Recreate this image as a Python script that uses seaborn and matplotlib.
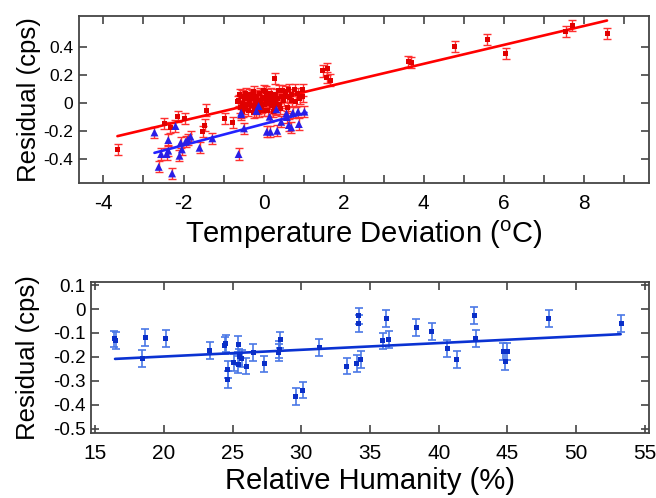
import numpy as np
import pandas as pd
import matplotlib
matplotlib.use("Agg")
import matplotlib.pyplot as plt
from matplotlib.ticker import MultipleLocator, FixedLocator, FuncFormatter
import seaborn as sns

# ---------------- data: top panel (temperature) ----------------
red_x = [-3.64, -2.475, -2.325, -2.14, -1.975, -1.43, -1.475, -1.52, -0.975, -0.77,
         0.275, 0.98, 0.98, 0.775, 0.625, 0.47, 0.70,
         1.48, 1.59, 1.58, 1.67,
         3.61, 3.69, 4.775, 5.58, 6.05, 7.54, 7.71, 8.58,
         -0.62, -0.58, -0.55, -0.52, -0.50, -0.47, -0.45, -0.42, -0.40, -0.38,
         -0.35, -0.33, -0.30, -0.28, -0.25, -0.22, -0.20, -0.18, -0.15, -0.12,
         -0.10, -0.08, -0.05, -0.03, 0.00, 0.02, 0.05, 0.08, 0.10, 0.12,
         0.15, 0.18, 0.20, 0.22, 0.25, 0.28, 0.30, 0.35, 0.40, 0.45,
         0.50, 0.55, 0.60, 0.65, 0.70, 0.80, 0.85, 0.90, -0.60, -0.45,
         -0.30, -0.15, 0.00, 0.15, 0.30, -0.65, 0.05, 0.38,
         -0.52, -0.36, -0.24, -0.06, 0.07, 0.24, 0.42, 0.58]
red_y = [-0.331, -0.145, -0.174, -0.098, -0.110, -0.050, -0.157, -0.205, -0.110, -0.140,
         0.176, 0.093, 0.045, 0.093, 0.098, 0.088, 0.020,
         0.229, 0.243, 0.183, 0.164,
         0.295, 0.288, 0.402, 0.455, 0.355, 0.509, 0.550, 0.493,
         0.020, -0.030, 0.050, 0.000, -0.040, 0.030, 0.070, -0.010, 0.040, -0.050,
         0.010, 0.060, -0.020, 0.030, 0.080, -0.040, 0.000, 0.050, 0.020, -0.060,
         0.070, 0.010, -0.030, 0.040, 0.090, -0.010, 0.030, 0.060, -0.050, 0.020,
         0.000, 0.070, -0.020, 0.040, 0.010, -0.040, 0.060, 0.030, -0.010, 0.050,
         0.020, 0.080, -0.030, 0.040, 0.060, 0.010, 0.070, 0.030, 0.060, -0.020,
         0.050, -0.040, -0.050, 0.030, 0.000, 0.010, 0.080, 0.090,
         -0.060, 0.005, -0.070, -0.015, 0.015, -0.060, -0.040, 0.045]
blue_x = [-2.725, -2.2, -2.62, -2.56, -2.42, -2.38, -2.38, -2.285, -2.1, -2.07,
          -2.04, -1.95, -1.89, -1.825, -1.6, -1.28, -0.625, -0.49, -0.56, -0.56,
          -0.18, -0.125, 0.08, 0.17, 0.15, 0.32, 0.34, 0.44, 0.57, 0.58,
          0.63, 0.69, 0.73, 0.86, 0.88, 1.02]
blue_y = [-0.210, -0.164, -0.455, -0.364, -0.364, -0.264, -0.340, -0.502, -0.376, -0.283,
          -0.331, -0.276, -0.260, -0.240, -0.319, -0.252, -0.364, -0.181, -0.069, -0.080,
          -0.057, -0.021, -0.205, -0.205, -0.098, -0.045, -0.198, -0.134, -0.074, -0.100,
          -0.157, -0.174, -0.069, -0.062, -0.150, -0.062]
temp_err = 0.04
red_fit_x = [-3.65, 8.575]
red_fit_y = [-0.236, 0.588]
blue_fit_x = [-2.725, 1.07]
blue_fit_y = [-0.355, -0.069]
temp_yticks = [-0.4, -0.2, 0.0, 0.2, 0.4]

# ---------------- data: bottom panel (humidity) ----------------
hum_x = [16.4, 16.5, 18.43, 18.65, 20.15, 23.33, 24.42, 24.5, 24.66, 24.66,
         25.1, 25.43, 25.43, 25.5, 25.67, 25.99, 26.52, 27.32, 28.36, 28.48,
         28.4, 29.6, 30.1, 31.3, 33.3, 34.03, 34.2, 34.2, 34.33, 35.94,
         36.2, 36.38, 38.36, 39.5, 40.63, 41.3, 42.6, 42.7, 44.7, 44.83,
         44.98, 48.0, 53.28]
hum_y = [-0.125, -0.130, -0.205, -0.120, -0.122, -0.174, -0.153, -0.145, -0.251, -0.293,
         -0.224, -0.146, -0.233, -0.200, -0.208, -0.238, -0.182, -0.229, -0.182, -0.129,
         -0.170, -0.365, -0.338, -0.160, -0.238, -0.226, -0.029, -0.060, -0.210, -0.133,
         -0.039, -0.126, -0.078, -0.094, -0.164, -0.210, -0.028, -0.122, -0.178, -0.219,
         -0.178, -0.039, -0.060]
hum_err = 0.035
hum_fit_x = [16.45, 53.24]
hum_fit_y = [-0.208, -0.105]

# ---------------- style ----------------
sns.set_style("ticks")
FONT = ["Liberation Sans", "DejaVu Sans"]
plt.rcParams["font.family"] = FONT
plt.rcParams["axes.unicode_minus"] = False
plt.rcParams["mathtext.fontset"] = "custom"
plt.rcParams["mathtext.rm"] = "Liberation Sans"
for k in ["text.color", "axes.labelcolor", "xtick.labelcolor", "ytick.labelcolor"]:
    plt.rcParams[k] = "black"

fig = plt.figure(figsize=(6.56, 4.98), dpi=100)
ax1 = fig.add_axes([0.1204, 0.6325, 0.869, 0.3353])
ax2 = fig.add_axes([0.1387, 0.1305, 0.8506, 0.3032])

fmt = FuncFormatter(lambda v, p: "%g" % round(v, 3))

def style_axes(ax, ysize):
    for s in ax.spines.values():
        s.set_color("#444444")
        s.set_linewidth(1.3)
    ax.tick_params(which="both", direction="in", top=True, right=True,
                   length=6, width=1.2, color="#444444")
    ax.tick_params(axis="x", labelsize=15, pad=8, labelcolor="black")
    ax.tick_params(axis="y", labelsize=ysize, pad=4, labelcolor="black")

# top panel
blue_c = "#2a1ee6"
ax1.errorbar(red_x, red_y, yerr=temp_err, fmt="none", ecolor="#ff3030",
             elinewidth=1.0, capsize=3, capthick=1.0, zorder=2)
ax1.errorbar(blue_x, blue_y, yerr=temp_err, fmt="none", ecolor="#ff3030",
             elinewidth=1.0, capsize=3, capthick=1.0, zorder=2)
sns.lineplot(x=red_fit_x, y=red_fit_y, color="#ff0000", linewidth=1.9, ax=ax1, zorder=3)
sns.lineplot(x=blue_fit_x, y=blue_fit_y, color="#2222ff", linewidth=1.9, ax=ax1, zorder=3)
sns.scatterplot(x=red_x, y=red_y, marker="s", color="#e00000", s=13,
                edgecolor="none", ax=ax1, zorder=4)
sns.scatterplot(x=blue_x, y=blue_y, marker="^", color=blue_c, s=32,
                edgecolor="none", ax=ax1, zorder=5)
ax1.set_xlim(-4.61, 9.625)
ax1.set_ylim(-0.57, 0.62)
ax1.xaxis.set_major_locator(MultipleLocator(2))
ax1.xaxis.set_minor_locator(MultipleLocator(1))
ax1.yaxis.set_major_locator(FixedLocator(temp_yticks))
ax1.xaxis.set_major_formatter(fmt)
ax1.yaxis.set_major_formatter(fmt)
style_axes(ax1, 12.5)
ax1.set_xlabel(r"Temperature Deviation ($^{\mathrm{o}}$C)", fontsize=21, labelpad=4)
ax1.set_ylabel("Residual (cps)", fontsize=18.5, labelpad=2)

# bottom panel
ax2.errorbar(hum_x, hum_y, yerr=hum_err, fmt="none", ecolor="#4a78e6",
             elinewidth=1.2, capsize=3, capthick=1.2, zorder=2)
sns.lineplot(x=hum_fit_x, y=hum_fit_y, color="#0a32d2", linewidth=1.9, ax=ax2, zorder=3)
sns.scatterplot(x=hum_x, y=hum_y, marker="s", color="#0a2fc8", s=13,
                edgecolor="none", ax=ax2, zorder=4)
ax2.set_xlim(14.7, 55.3)
ax2.set_ylim(-0.517, 0.1125)
ax2.xaxis.set_major_locator(MultipleLocator(5))
ax2.yaxis.set_major_locator(MultipleLocator(0.1))
ax2.xaxis.set_major_formatter(fmt)
ax2.yaxis.set_major_formatter(fmt)
style_axes(ax2, 13.5)
ax2.set_xlabel("Relative Humanity (%)", fontsize=21, labelpad=3)
ax2.set_ylabel("Residual (cps)", fontsize=18.5)
ax2.yaxis.set_label_coords(-0.092, 0.5)

fig.savefig("out.png", dpi=100)
